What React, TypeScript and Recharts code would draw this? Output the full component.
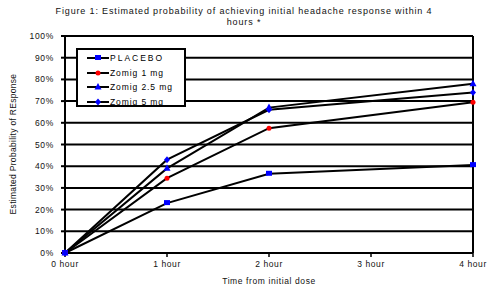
import { LineChart, Line, XAxis, YAxis, Legend, ReferenceLine } from 'recharts'

const hours = [0, 1, 2, 3, 4]
const timePoints = [0, 1, 2, 4]
const placebo = [0, 0.23, 0.365, 0.405]
const zomig1 = [0, 0.345, 0.575, 0.695]
const zomig25 = [0, 0.39, 0.67, 0.78]
const zomig5 = [0, 0.43, 0.66, 0.74]
const yTicks = [0, 0.1, 0.2, 0.3, 0.4, 0.5, 0.6, 0.7, 0.8, 0.9, 1]

const data = timePoints.map((t, i) => ({
  t,
  placebo: placebo[i],
  zomig1: zomig1[i],
  zomig25: zomig25[i],
  zomig5: zomig5[i],
}))

const FONT = 'Arial, "Liberation Sans", sans-serif'
const BLUE = '#0000FF'
const RED = '#FF0000'

const Square = ({ cx, cy }: any) => (
  <rect x={cx - 3} y={cy - 3} width={6} height={5} fill={BLUE} />
)
const Circle = ({ cx, cy }: any) => <circle cx={cx} cy={cy} r={2.5} fill={RED} />
const Triangle = ({ cx, cy }: any) => (
  <polygon points={`${cx},${cy - 4} ${cx + 3.5},${cy + 2.5} ${cx - 3.5},${cy + 2.5}`} fill={BLUE} />
)
const Diamond = ({ cx, cy }: any) => (
  <polygon points={`${cx},${cy - 3.5} ${cx + 3},${cy} ${cx},${cy + 3.5} ${cx - 3},${cy}`} fill={BLUE} />
)

const series = [
  { key: 'placebo', name: 'PLACEBO', Marker: Square },
  { key: 'zomig1', name: 'Zomig 1 mg', Marker: Circle },
  { key: 'zomig25', name: 'Zomig 2.5 mg', Marker: Triangle },
  { key: 'zomig5', name: 'Zomig 5 mg', Marker: Diamond },
]

const renderLegend = () => (
  <div
    style={{
      border: '2px solid #000',
      background: '#fff',
      padding: '1px 0 0 8px',
      boxSizing: 'border-box',
      width: 110,
      height: 59,
    }}
  >
    {series.map((s) => (
      <div key={s.key} style={{ display: 'flex', alignItems: 'center', height: 14.5 }}>
        <svg width={24} height={10}>
          <line x1={1} y1={5} x2={23} y2={5} stroke="#000" strokeWidth={2} />
          <s.Marker cx={12} cy={5} />
        </svg>
        <span
          style={{
            fontFamily: FONT,
            fontSize: 8.5,
            letterSpacing: s.key === 'placebo' ? 2 : 0.9,
            color: '#000',
          }}
        >
          {s.name}
        </span>
      </div>
    ))}
  </div>
)

export default function App() {
  return (
    <div style={{ position: 'fixed', left: 0, top: 0, width: 488, height: 290, background: '#fff' }}>
      <div
        style={{
          position: 'absolute',
          left: 0,
          top: 6,
          width: 488,
          textAlign: 'center',
          fontFamily: FONT,
          fontSize: 9,
          letterSpacing: 0.85,
          lineHeight: '11px',
          color: '#111',
        }}
      >
        Figure 1: Estimated probability of achieving initial headache response within 4
        <br />
        hours *
      </div>
      <LineChart width={488} height={290} data={data} margin={{ top: 36, right: 15, bottom: 0, left: 0 }}>
        <XAxis
          dataKey="t"
          type="number"
          domain={[0, 4]}
          ticks={hours}
          tickFormatter={(v) => `${v} hour`}
          height={37}
          axisLine={{ stroke: '#000', strokeWidth: 2 }}
          tickLine={{ stroke: '#000', strokeWidth: 1.5 }}
          tickSize={4}
          tickMargin={4}
          tick={{ fontFamily: FONT, fontSize: 8.5, fill: '#111', letterSpacing: 0.6 }}
        />
        <YAxis
          domain={[0, 1]}
          ticks={yTicks}
          interval={0}
          tickFormatter={(v) => `${Math.round(v * 100)}%`}
          width={65}
          axisLine={{ stroke: '#000', strokeWidth: 2 }}
          tickLine={{ stroke: '#000', strokeWidth: 2 }}
          tickSize={4}
          tickMargin={7}
          tick={{ fontFamily: FONT, fontSize: 8.5, fill: '#111', letterSpacing: 0.7 }}
        />
        {yTicks.map((t) => (
          <ReferenceLine key={`grid-${t}`} y={t} stroke="#000" strokeWidth={2} />
        ))}
        <ReferenceLine x={4} stroke="#000" strokeWidth={2} />
        {series.map((s) => (
          <Line
            key={s.key}
            dataKey={s.key}
            name={s.name}
            stroke="#000"
            strokeWidth={2}
            dot={(p: any) => <s.Marker key={`${s.key}-${p.index}`} cx={p.cx} cy={p.cy} />}
            activeDot={false}
            isAnimationActive={false}
          />
        ))}
        <Legend
          layout="vertical"
          align="center"
          verticalAlign="middle"
          content={renderLegend}
          wrapperStyle={{ left: 76, top: 48, width: 110, height: 59 }}
        />
      </LineChart>
      <div
        style={{
          position: 'absolute',
          left: 65,
          top: 276,
          width: 408,
          textAlign: 'center',
          fontFamily: FONT,
          fontSize: 8.5,
          letterSpacing: 0.6,
          color: '#111',
        }}
      >
        Time from initial dose
      </div>
      <div
        style={{
          position: 'absolute',
          left: 13,
          top: 144,
          transform: 'translate(-50%, -50%) rotate(-90deg)',
          whiteSpace: 'nowrap',
          fontFamily: FONT,
          fontSize: 8.5,
          letterSpacing: 0.3,
          color: '#111',
        }}
      >
        Estimated Probability of REsponse
      </div>
    </div>
  )
}
